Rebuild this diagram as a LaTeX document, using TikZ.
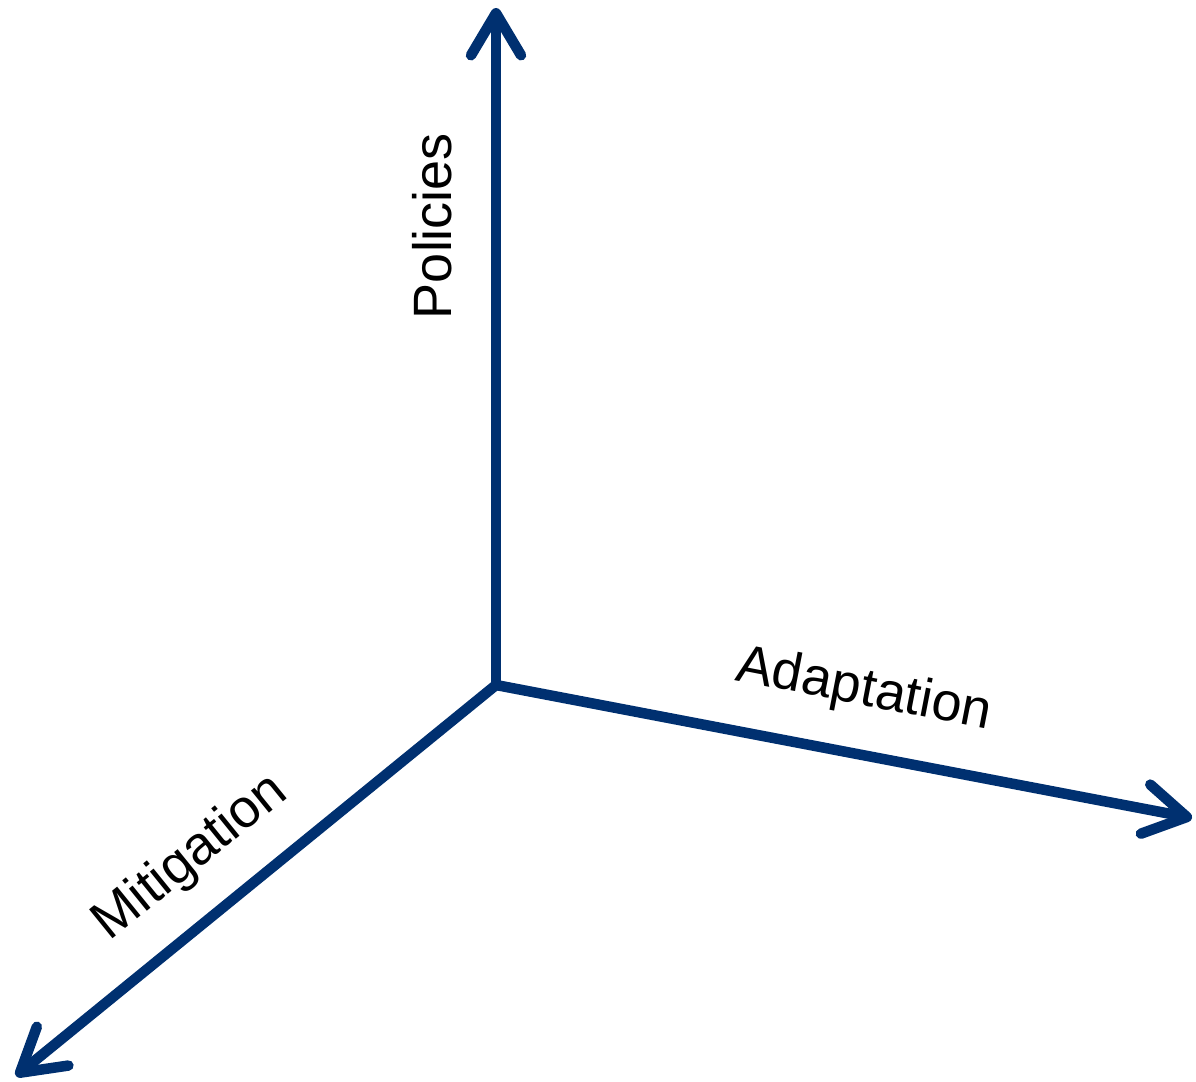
\documentclass[tikz,border=0pt]{standalone}
\usepackage{fontspec}
\setmainfont{Liberation Sans}
\usepackage{tikz}
\usetikzlibrary{arrows.meta}
\usepackage{xcolor}
\definecolor{axisblue}{RGB}{0,48,112}

\begin{document}
\begin{tikzpicture}[x=1pt, y=-1pt,
    axis/.style={axisblue, line width=10.5pt, line cap=round,
      -{Straight Barb[length=42pt, width=50pt, round]}},
    every node/.style={font=\fontsize{54}{64}\selectfont, inner sep=0pt}]
  \useasboundingbox (0,0) rectangle (1196,1081);
  \coordinate (O) at (496,685);
  \coordinate (Ptip) at (496,8);
  \coordinate (Atip) at (1192,818);
  \coordinate (Mtip) at (16,1076);
  \draw[axis] (O) -- (Ptip);
  \draw[axis] (O) -- (Atip);
  \draw[axis] (O) -- (Mtip);
  \node[rotate=90] (policies) at (432,226) {Policies};
  \node[rotate=-11] (adaptation) at (864,691) {Adaptation};
  \node[rotate=39] (mitigation) at (191,858) {Mitigation};
\end{tikzpicture}
\end{document}
